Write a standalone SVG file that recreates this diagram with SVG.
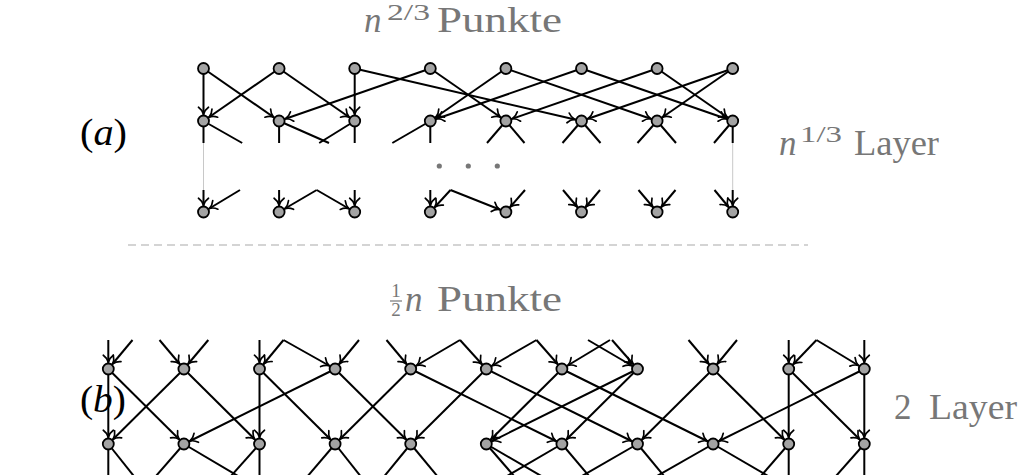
<svg xmlns="http://www.w3.org/2000/svg" width="1021" height="475" viewBox="0 0 1021 475">
  <style>
    .e { stroke: #000; stroke-width: 2; fill: none; }
    .a { marker-end: url(#arr); }
    .guide { stroke: #c8c8c8; stroke-width: 1; }
    .n { fill: #a3a3a3; stroke: #000; stroke-width: 1.8; }
    .lbl { font-family: "Liberation Serif", "DejaVu Serif", serif; fill: #777; font-size: 35px; }
    .sup { font-size: 24px; }
    .tag { font-family: "Liberation Serif", "DejaVu Serif", serif; fill: #000; font-size: 38px; }
    .dot { fill: #777; }
  </style>
  <defs>
    <marker id="arr" markerUnits="userSpaceOnUse" orient="auto" overflow="visible" refX="6.8" refY="0" markerWidth="10" markerHeight="10">
      <path d="M-7,-5 C-5,-2.2 -2.2,-0.6 0,0 C-2.2,0.6 -5,2.2 -7,5" fill="none" stroke="#000" stroke-width="1.7" stroke-linecap="round"/>
    </marker>
  </defs>

  <!-- labels -->
  <g id="label-top" class="lbl">
    <text x="364" y="32" font-style="italic">n</text>
    <text class="sup" x="387" y="20" textLength="43" lengthAdjust="spacingAndGlyphs">2/3</text>
    <text x="437" y="32" textLength="125" lengthAdjust="spacingAndGlyphs">Punkte</text>
  </g>
  <text class="tag" x="80" y="145" textLength="47" lengthAdjust="spacingAndGlyphs">(<tspan font-style="italic">a</tspan>)</text>
  <g id="label-layers-a" class="lbl">
    <text x="779" y="155" font-style="italic">n</text>
    <text class="sup" x="800" y="142" textLength="42" lengthAdjust="spacingAndGlyphs">1/3</text>
    <text x="854" y="155" textLength="85" lengthAdjust="spacingAndGlyphs">Layer</text>
  </g>
  <g id="label-half" class="lbl">
    <text x="396" y="297" font-size="19" text-anchor="middle">1</text>
    <line x1="390" y1="301" x2="402" y2="301" stroke="#777" stroke-width="1.2"/>
    <text x="396" y="316" font-size="19" text-anchor="middle">2</text>
    <text x="405" y="311" font-style="italic">n</text>
    <text x="437" y="311" textLength="125" lengthAdjust="spacingAndGlyphs">Punkte</text>
  </g>
  <text class="tag" x="80" y="412" textLength="46" lengthAdjust="spacingAndGlyphs">(<tspan font-style="italic">b</tspan>)</text>
  <g id="label-layers-b" class="lbl">
    <text x="894" y="419">2</text>
    <text x="929" y="419" textLength="88" lengthAdjust="spacingAndGlyphs">Layer</text>
  </g>

  <!-- separator -->
  <line x1="128" y1="245" x2="808" y2="245" stroke="#aaa" stroke-width="1.2" stroke-dasharray="8 5"/>

  <!-- ellipsis between the visible layers -->
  <circle class="dot" cx="439.3" cy="166" r="2.6"/>
  <circle class="dot" cx="468.3" cy="166" r="2.6"/>
  <circle class="dot" cx="497.3" cy="166" r="2.6"/>

  <g id="connectors">
    <!-- (a) guide lines at the left and right border -->
    <line class="guide" x1="203.5" y1="143" x2="203.5" y2="190"/>
    <line class="guide" x1="732.7" y1="143" x2="732.7" y2="190"/>

    <!-- (a) first layer to second layer -->
    <line class="e a" x1="203.5" y1="68.5" x2="203.5" y2="121"/>
    <line class="e a" x1="203.5" y1="68.5" x2="279.1" y2="121"/>
    <line class="e a" x1="279.1" y1="68.5" x2="203.5" y2="121"/>
    <line class="e a" x1="279.1" y1="68.5" x2="354.7" y2="121"/>
    <line class="e a" x1="354.7" y1="68.5" x2="354.7" y2="121"/>
    <line class="e a" x1="354.7" y1="68.5" x2="581.5" y2="121"/>
    <line class="e a" x1="430.3" y1="68.5" x2="279.1" y2="121"/>
    <line class="e a" x1="430.3" y1="68.5" x2="505.9" y2="121"/>
    <line class="e a" x1="505.9" y1="68.5" x2="430.3" y2="121"/>
    <line class="e a" x1="505.9" y1="68.5" x2="657.1" y2="121"/>
    <line class="e a" x1="581.5" y1="68.5" x2="430.3" y2="121"/>
    <line class="e a" x1="581.5" y1="68.5" x2="732.7" y2="121"/>
    <line class="e a" x1="657.1" y1="68.5" x2="505.9" y2="121"/>
    <line class="e a" x1="657.1" y1="68.5" x2="732.7" y2="121"/>
    <line class="e a" x1="732.7" y1="68.5" x2="581.5" y2="121"/>
    <line class="e a" x1="732.7" y1="68.5" x2="657.1" y2="121"/>

    <!-- (a) edges leaving the second layer -->
    <line class="e" x1="203.5" y1="121" x2="203.5" y2="143"/>
    <line class="e" x1="203.5" y1="121" x2="242.2" y2="143"/>
    <line class="e" x1="279.1" y1="121" x2="279.1" y2="143"/>
    <line class="e" x1="279.1" y1="121" x2="329" y2="143"/>
    <line class="e" x1="354.7" y1="121" x2="354.7" y2="143"/>
    <line class="e" x1="354.7" y1="121" x2="319.2" y2="143"/>
    <line class="e" x1="430.3" y1="121" x2="430.3" y2="143"/>
    <line class="e" x1="430.3" y1="121" x2="392.3" y2="143"/>
    <line class="e" x1="505.9" y1="121" x2="487" y2="143"/>
    <line class="e" x1="505.9" y1="121" x2="524.5" y2="143"/>
    <line class="e" x1="581.5" y1="121" x2="562.5" y2="143"/>
    <line class="e" x1="581.5" y1="121" x2="600.5" y2="143"/>
    <line class="e" x1="657.1" y1="121" x2="637.5" y2="143"/>
    <line class="e" x1="657.1" y1="121" x2="676" y2="143"/>
    <line class="e" x1="732.7" y1="121" x2="714" y2="143"/>
    <line class="e" x1="732.7" y1="121" x2="732.7" y2="143"/>

    <!-- (a) edges entering the last layer -->
    <line class="e a" x1="203.5" y1="190" x2="203.5" y2="212"/>
    <line class="e a" x1="240" y1="190" x2="203.5" y2="212"/>
    <line class="e a" x1="279.1" y1="190" x2="279.1" y2="212"/>
    <line class="e a" x1="316.7" y1="190" x2="279.1" y2="212"/>
    <line class="e a" x1="354.7" y1="190" x2="354.7" y2="212"/>
    <line class="e a" x1="316.7" y1="190" x2="354.7" y2="212"/>
    <line class="e a" x1="430.3" y1="190" x2="430.3" y2="212"/>
    <line class="e a" x1="450.5" y1="190" x2="430.3" y2="212"/>
    <line class="e a" x1="450.5" y1="190" x2="505.9" y2="212"/>
    <line class="e a" x1="525" y1="190" x2="505.9" y2="212"/>
    <line class="e a" x1="563" y1="190" x2="581.5" y2="212"/>
    <line class="e a" x1="600" y1="190" x2="581.5" y2="212"/>
    <line class="e a" x1="638.5" y1="190" x2="657.1" y2="212"/>
    <line class="e a" x1="675.5" y1="190" x2="657.1" y2="212"/>
    <line class="e a" x1="714.5" y1="190" x2="732.7" y2="212"/>
    <line class="e a" x1="732.7" y1="190" x2="732.7" y2="212"/>

    <!-- (b) edges entering the upper layer -->
    <line class="e a" x1="108.3" y1="340" x2="108.3" y2="369"/>
    <line class="e a" x1="132.5" y1="340" x2="108.3" y2="369"/>
    <line class="e a" x1="159.5" y1="340" x2="183.9" y2="369"/>
    <line class="e a" x1="208.3" y1="340" x2="183.9" y2="369"/>
    <line class="e a" x1="259.5" y1="340" x2="259.5" y2="369"/>
    <line class="e a" x1="283.5" y1="340" x2="259.5" y2="369"/>
    <line class="e a" x1="283.5" y1="340" x2="335.1" y2="369"/>
    <line class="e a" x1="359" y1="340" x2="335.1" y2="369"/>
    <line class="e a" x1="386.5" y1="340" x2="410.7" y2="369"/>
    <line class="e a" x1="460" y1="340" x2="410.7" y2="369"/>
    <line class="e a" x1="460" y1="340" x2="486.3" y2="369"/>
    <line class="e a" x1="536.5" y1="340" x2="486.3" y2="369"/>
    <line class="e a" x1="536.5" y1="340" x2="561.9" y2="369"/>
    <line class="e a" x1="610" y1="340" x2="561.9" y2="369"/>
    <line class="e a" x1="588" y1="340" x2="637.5" y2="369"/>
    <line class="e a" x1="612" y1="340" x2="637.5" y2="369"/>
    <line class="e a" x1="688.5" y1="340" x2="713.1" y2="369"/>
    <line class="e a" x1="737" y1="340" x2="713.1" y2="369"/>
    <line class="e a" x1="788.7" y1="340" x2="788.7" y2="369"/>
    <line class="e a" x1="816.5" y1="340" x2="788.7" y2="369"/>
    <line class="e a" x1="816.5" y1="340" x2="864.3" y2="369"/>
    <line class="e a" x1="864.3" y1="340" x2="864.3" y2="369"/>

    <!-- (b) upper layer to lower layer -->
    <line class="e a" x1="108.3" y1="369" x2="108.3" y2="444"/>
    <line class="e a" x1="108.3" y1="369" x2="183.9" y2="444"/>
    <line class="e a" x1="183.9" y1="369" x2="108.3" y2="444"/>
    <line class="e a" x1="183.9" y1="369" x2="259.5" y2="444"/>
    <line class="e a" x1="259.5" y1="369" x2="259.5" y2="444"/>
    <line class="e a" x1="259.5" y1="369" x2="335.1" y2="444"/>
    <line class="e a" x1="335.1" y1="369" x2="183.9" y2="444"/>
    <line class="e a" x1="335.1" y1="369" x2="410.7" y2="444"/>
    <line class="e a" x1="410.7" y1="369" x2="335.1" y2="444"/>
    <line class="e a" x1="410.7" y1="369" x2="561.9" y2="444"/>
    <line class="e a" x1="486.3" y1="369" x2="410.7" y2="444"/>
    <line class="e a" x1="486.3" y1="369" x2="637.5" y2="444"/>
    <line class="e a" x1="561.9" y1="369" x2="486.3" y2="444"/>
    <line class="e a" x1="561.9" y1="369" x2="713.1" y2="444"/>
    <line class="e a" x1="637.5" y1="369" x2="486.3" y2="444"/>
    <line class="e a" x1="637.5" y1="369" x2="561.9" y2="444"/>
    <line class="e a" x1="713.1" y1="369" x2="637.5" y2="444"/>
    <line class="e a" x1="713.1" y1="369" x2="788.7" y2="444"/>
    <line class="e a" x1="788.7" y1="369" x2="788.7" y2="444"/>
    <line class="e a" x1="788.7" y1="369" x2="864.3" y2="444"/>
    <line class="e a" x1="864.3" y1="369" x2="864.3" y2="444"/>
    <line class="e a" x1="864.3" y1="369" x2="713.1" y2="444"/>

    <!-- (b) edges leaving the lower layer -->
    <line class="e" x1="108.3" y1="444" x2="108.3" y2="476"/>
    <line class="e" x1="108.3" y1="444" x2="133.8" y2="476"/>
    <line class="e" x1="183.9" y1="444" x2="156" y2="476"/>
    <line class="e" x1="183.9" y1="444" x2="238" y2="476"/>
    <line class="e" x1="259.5" y1="444" x2="259.5" y2="476"/>
    <line class="e" x1="259.5" y1="444" x2="231" y2="476"/>
    <line class="e" x1="335.1" y1="444" x2="307.8" y2="476"/>
    <line class="e" x1="335.1" y1="444" x2="360.4" y2="476"/>
    <line class="e" x1="410.7" y1="444" x2="384.5" y2="476"/>
    <line class="e" x1="410.7" y1="444" x2="437.2" y2="476"/>
    <line class="e" x1="486.3" y1="444" x2="514" y2="476"/>
    <line class="e" x1="486.3" y1="444" x2="541.3" y2="476"/>
    <line class="e" x1="561.9" y1="444" x2="507.1" y2="476"/>
    <line class="e" x1="561.9" y1="444" x2="589" y2="476"/>
    <line class="e" x1="637.5" y1="444" x2="582" y2="476"/>
    <line class="e" x1="637.5" y1="444" x2="664" y2="476"/>
    <line class="e" x1="713.1" y1="444" x2="657" y2="476"/>
    <line class="e" x1="713.1" y1="444" x2="768" y2="476"/>
    <line class="e" x1="788.7" y1="444" x2="761" y2="476"/>
    <line class="e" x1="788.7" y1="444" x2="788.7" y2="476"/>
    <line class="e" x1="864.3" y1="444" x2="836" y2="476"/>
    <line class="e" x1="864.3" y1="444" x2="864.3" y2="476"/>
  </g>

  <!-- (a) nodes -->
  <g id="a-l1-0"><circle class="n" cx="203.5" cy="68.5" r="5.5"/></g>
  <g id="a-l1-1"><circle class="n" cx="279.1" cy="68.5" r="5.5"/></g>
  <g id="a-l1-2"><circle class="n" cx="354.7" cy="68.5" r="5.5"/></g>
  <g id="a-l1-3"><circle class="n" cx="430.3" cy="68.5" r="5.5"/></g>
  <g id="a-l1-4"><circle class="n" cx="505.9" cy="68.5" r="5.5"/></g>
  <g id="a-l1-5"><circle class="n" cx="581.5" cy="68.5" r="5.5"/></g>
  <g id="a-l1-6"><circle class="n" cx="657.1" cy="68.5" r="5.5"/></g>
  <g id="a-l1-7"><circle class="n" cx="732.7" cy="68.5" r="5.5"/></g>
  <g id="a-l2-0"><circle class="n" cx="203.5" cy="121" r="5.5"/></g>
  <g id="a-l2-1"><circle class="n" cx="279.1" cy="121" r="5.5"/></g>
  <g id="a-l2-2"><circle class="n" cx="354.7" cy="121" r="5.5"/></g>
  <g id="a-l2-3"><circle class="n" cx="430.3" cy="121" r="5.5"/></g>
  <g id="a-l2-4"><circle class="n" cx="505.9" cy="121" r="5.5"/></g>
  <g id="a-l2-5"><circle class="n" cx="581.5" cy="121" r="5.5"/></g>
  <g id="a-l2-6"><circle class="n" cx="657.1" cy="121" r="5.5"/></g>
  <g id="a-l2-7"><circle class="n" cx="732.7" cy="121" r="5.5"/></g>
  <g id="a-ln-0"><circle class="n" cx="203.5" cy="212" r="5.5"/></g>
  <g id="a-ln-1"><circle class="n" cx="279.1" cy="212" r="5.5"/></g>
  <g id="a-ln-2"><circle class="n" cx="354.7" cy="212" r="5.5"/></g>
  <g id="a-ln-3"><circle class="n" cx="430.3" cy="212" r="5.5"/></g>
  <g id="a-ln-4"><circle class="n" cx="505.9" cy="212" r="5.5"/></g>
  <g id="a-ln-5"><circle class="n" cx="581.5" cy="212" r="5.5"/></g>
  <g id="a-ln-6"><circle class="n" cx="657.1" cy="212" r="5.5"/></g>
  <g id="a-ln-7"><circle class="n" cx="732.7" cy="212" r="5.5"/></g>

  <!-- (b) nodes -->
  <g id="b-t-0"><circle class="n" cx="108.3" cy="369" r="5.5"/></g>
  <g id="b-t-1"><circle class="n" cx="183.9" cy="369" r="5.5"/></g>
  <g id="b-t-2"><circle class="n" cx="259.5" cy="369" r="5.5"/></g>
  <g id="b-t-3"><circle class="n" cx="335.1" cy="369" r="5.5"/></g>
  <g id="b-t-4"><circle class="n" cx="410.7" cy="369" r="5.5"/></g>
  <g id="b-t-5"><circle class="n" cx="486.3" cy="369" r="5.5"/></g>
  <g id="b-t-6"><circle class="n" cx="561.9" cy="369" r="5.5"/></g>
  <g id="b-t-7"><circle class="n" cx="637.5" cy="369" r="5.5"/></g>
  <g id="b-t-8"><circle class="n" cx="713.1" cy="369" r="5.5"/></g>
  <g id="b-t-9"><circle class="n" cx="788.7" cy="369" r="5.5"/></g>
  <g id="b-t-10"><circle class="n" cx="864.3" cy="369" r="5.5"/></g>
  <g id="b-b-0"><circle class="n" cx="108.3" cy="444" r="5.5"/></g>
  <g id="b-b-1"><circle class="n" cx="183.9" cy="444" r="5.5"/></g>
  <g id="b-b-2"><circle class="n" cx="259.5" cy="444" r="5.5"/></g>
  <g id="b-b-3"><circle class="n" cx="335.1" cy="444" r="5.5"/></g>
  <g id="b-b-4"><circle class="n" cx="410.7" cy="444" r="5.5"/></g>
  <g id="b-b-5"><circle class="n" cx="486.3" cy="444" r="5.5"/></g>
  <g id="b-b-6"><circle class="n" cx="561.9" cy="444" r="5.5"/></g>
  <g id="b-b-7"><circle class="n" cx="637.5" cy="444" r="5.5"/></g>
  <g id="b-b-8"><circle class="n" cx="713.1" cy="444" r="5.5"/></g>
  <g id="b-b-9"><circle class="n" cx="788.7" cy="444" r="5.5"/></g>
  <g id="b-b-10"><circle class="n" cx="864.3" cy="444" r="5.5"/></g>
</svg>
